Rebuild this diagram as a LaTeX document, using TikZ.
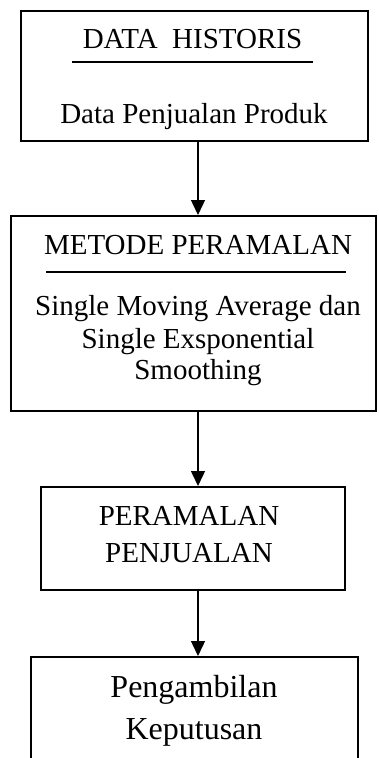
\documentclass[tikz,border=0pt]{standalone}
\usepackage{fontspec}
\setmainfont{Liberation Serif}
\usetikzlibrary{arrows.meta}
\begin{document}
\begin{tikzpicture}[x=1pt,y=1pt,
  blockbox/.style={draw, line width=2pt, inner sep=0pt},
  txt/.style={anchor=base, inner sep=0pt, font=\fontsize{29}{33}\selectfont},
  bigtxt/.style={anchor=base, inner sep=0pt, font=\fontsize{32}{38}\selectfont},
  rule/.style={line width=1.8pt},
  flow/.style={line width=1.4pt, -{Triangle[length=15pt,width=14pt]}}]
\useasboundingbox (0,0) rectangle (378,-758);
\clip (0,0) rectangle (378,-758);

% boxes
\node[blockbox, minimum width=347pt, minimum height=130pt] (b1) at (194.5,-76) {};
\node[blockbox, minimum width=365pt, minimum height=195pt] (b2) at (193.5,-313.5) {};
\node[blockbox, minimum width=304pt, minimum height=103pt] (b3) at (193,-538.5) {};
\node[blockbox, minimum width=327pt, minimum height=143pt] (b4) at (194.5,-728.5) {};

% box 1
\node[txt] (t1) at (192.5,-48) {DATA\ \ HISTORIS};
\coordinate (u1a) at (72,-62);
\coordinate (u1b) at (313,-62);
\draw[rule] (u1a) -- (u1b);
\node[txt] (d1) at (194,-123) {Data Penjualan Produk};

% box 2
\node[txt] (t2) at (198,-254) {METODE PERAMALAN};
\coordinate (u2a) at (46,-272);
\coordinate (u2b) at (346,-272);
\draw[rule] (u2a) -- (u2b);
\node[txt] (d2a) at (198,-315) {Single Moving Average dan};
\node[txt] (d2b) at (198,-348) {Single Exsponential};
\node[txt] (d2c) at (198,-379) {Smoothing};

% box 3
\node[txt] (t3a) at (189,-525) {PERAMALAN};
\node[txt] (t3b) at (189,-562) {PENJUALAN};

% box 4
\node[bigtxt] (t4a) at (194,-697) {Pengambilan};
\node[bigtxt] (t4b) at (194,-739) {Keputusan};

% connectors
\coordinate (ax) at (198,0);
\draw[flow] (b1.south -| ax) -- (b2.north -| ax);
\draw[flow] (b2.south -| ax) -- (b3.north -| ax);
\draw[flow] (b3.south -| ax) -- (b4.north -| ax);
\end{tikzpicture}
\end{document}
